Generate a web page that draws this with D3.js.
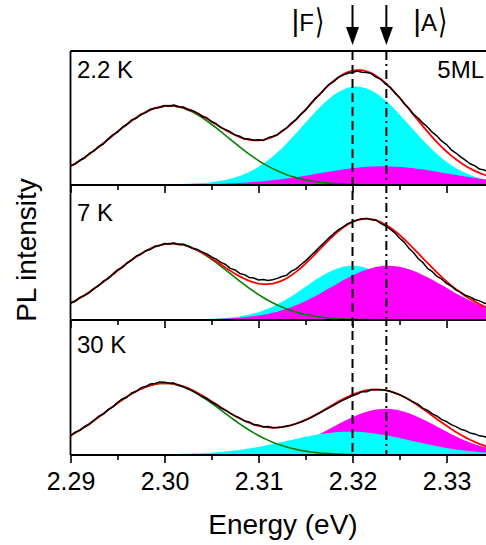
<!DOCTYPE html>
<html><head><meta charset="utf-8">
<script src="https://cdn.jsdelivr.net/npm/d3@7"></script>
<style>
html,body{margin:0;padding:0;background:#fff;}
svg{display:block;font-family:"Liberation Sans",Arial,sans-serif;}
</style></head>
<body><svg id="c" width="486" height="545"></svg>
<script>
// ---------- data ----------
const panelLabels = ["2.2 K", "7 K", "30 K"];
const sampleLabel = "5ML";
const xMajorTicks = [2.29, 2.30, 2.31, 2.32, 2.33];
const xMinorTicks = [2.295, 2.305, 2.315, 2.325];
const stateF = 2.3200, stateA = 2.3236;
const stateNames = ["F", "A"];

// Gaussian fit components per panel (center eV, amplitude, sigma eV)
const greenCenter = [2.3005, 2.3008, 2.3000];
const greenAmp    = [0.59, 0.57, 0.535];
const greenSigma  = [0.0062, 0.0062, 0.0062];
const cyanCenter  = [2.3204, 2.3200, 2.3197];
const cyanAmp     = [0.73, 0.40, 0.17];
const cyanSigma   = [0.0056, 0.0050, 0.0065];
const magCenter   = [2.3232, 2.3238, 2.3235];
const magAmp      = [0.135, 0.40, 0.34];
const magSigma    = [0.0068, 0.0060, 0.0055];
const fillOrder = [["cyan","magenta"],["cyan","magenta"],["magenta","cyan"]];

// measured PL minus fit (thousandths), every 0.5 meV from 2.2900 eV
const residual1 = [4,-5,2,-4,5,-2,4,-6,2,5,-4,3,-2,6,-5,2,-4,5,0,-5,
  4,-4,6,-2,5,-5,3,2,-4,6,0,5,-2,4,7,1,6,-3,5,0,
  4,-5,6,2,-4,5,0,6,-2,4,-5,2,5,-3,1,4,-6,-1,-5,-8,
  -13,-7,-15,-9,-4,-11,-2,-8,1,-5,
  2,-3,5,3,18,24,35,36,46,44,
  52,43,47,44,42,35,38,29,36,28];
const residual2 = [2,-4,5,-2,-5,3,-1,5,-4,2,6,-5,3,-2,5,-4,2,-6,4,-1,
  5,-2,4,-5,6,2,-4,5,4,11,10,17,16,24,18,28,22,31,25,33,
  26,35,28,29,30,31,23,31,22,24,21,20,18,17,15,14,12,11,5,6,
  0,1,1,2,-6,0,-10,-10,-13,-14,
  -23,-22,-33,-31,-40,-33,-41,-28,-29,-16,
  -15,-6,-6,4,5,15,16,24,24,30];
const residual3 = [-4,5,-3,4,-5,2,6,-4,5,-3,4,7,-4,6,-1,8,2,10,4,11,
  7,0,6,-3,-2,-5,-4,-6,-8,-3,-7,-1,-6,1,-1,0,4,-2,6,-3,
  5,-1,7,0,1,1,2,0,0,-1,-2,-4,-3,-5,-5,-6,-7,-8,-8,-9,
  -9,-10,-3,-11,-2,-3,-1,0,0,-1,
  1,1,2,2,10,4,14,14,22,22,
  32,33,40,42,51,51,60,60,68,68];
const residuals = [residual1, residual2, residual3];
const gridStart = 2.29, gridStep = 0.0005;

// ---------- layout ----------
const svg = d3.select("#c");
const left = 70.5, right = 486;
const panelTop = [51, 185, 320];
const panelBottom = [185, 320, 455];
const x = d3.scaleLinear().domain([2.29, 2.3342]).range([left, right]);
const energies = residual1.map((_, i) => gridStart + i * gridStep);
const gauss = (e, c, a, s) => a * Math.exp(-((e - c) ** 2) / (2 * s * s));

svg.append("defs").append("clipPath").attr("id","clip")
  .append("rect").attr("x", left).attr("y", 51).attr("width", right - left).attr("height", 405);

const colors = {cyan: "#00ffff", magenta: "#ff00ff"};

panelTop.forEach((top, p) => {
  const bottom = panelBottom[p];
  const y = d3.scaleLinear().domain([0, 1]).range([bottom, bottom - 134]);
  const g = svg.append("g");
  const plot = g.append("g").attr("clip-path", "url(#clip)");
  const comp = {
    green: e => gauss(e, greenCenter[p], greenAmp[p], greenSigma[p]),
    cyan: e => gauss(e, cyanCenter[p], cyanAmp[p], cyanSigma[p]),
    magenta: e => gauss(e, magCenter[p], magAmp[p], magSigma[p])
  };
  const fit = e => comp.green(e) + comp.cyan(e) + comp.magenta(e);

  g.append("line").attr("x1", left).attr("x2", right).attr("y1", bottom).attr("y2", bottom)
    .attr("stroke", "#000").attr("stroke-width", 1.8);

  fillOrder[p].forEach(name => {
    const area = d3.area().x(e => x(e)).y0(y(0)).y1(e => y(comp[name](e)));
    plot.append("path").datum(energies).attr("d", area)
      .attr("fill", colors[name]).attr("stroke", colors[name]).attr("stroke-width", 1.2);
  });
  const line = f => d3.line().x(e => x(e)).y(e => y(f(e)));
  plot.append("path").datum(energies).attr("d", line(comp.green))
    .attr("fill", "none").attr("stroke", "#008000").attr("stroke-width", 1.6);
  plot.append("path").datum(energies).attr("d", line(fit))
    .attr("fill", "none").attr("stroke", "#ff0000").attr("stroke-width", 1.8);
  const res = residuals[p];
  plot.append("path").datum(energies.map((e, i) => [e, fit(e) + res[i] / 1000]))
    .attr("d", d3.line().x(d => x(d[0])).y(d => y(d[1])))
    .attr("fill", "none").attr("stroke", "#000").attr("stroke-width", 1.5).attr("stroke-linejoin","round");

  const major = d3.axisBottom(x).tickValues(xMajorTicks).tickSize(8).tickSizeOuter(0)
    .tickFormat(p === 2 ? d3.format(".2f") : () => "").tickPadding(9);
  const minor = d3.axisBottom(x).tickValues(xMinorTicks).tickSize(5).tickSizeOuter(0).tickFormat(() => "");
  const ax = g.append("g").attr("transform", `translate(0,${bottom})`).call(major);
  const axm = g.append("g").attr("transform", `translate(0,${bottom})`).call(minor);
  [ax, axm].forEach(a => {
    a.select(".domain").remove();
    a.selectAll(".tick line").attr("stroke", "#000").attr("stroke-width", 1.6);
    a.selectAll("text").attr("font-size", 25).attr("fill", "#000")
      .attr("font-family", "'Liberation Sans', Arial, sans-serif");
  });

  const labelY = [78, 221, 353][p];
  g.append("text").attr("x", 77).attr("y", labelY).attr("font-size", 24).text(panelLabels[p]);
});

svg.append("line").attr("x1", left).attr("x2", left).attr("y1", 51).attr("y2", 455)
  .attr("stroke", "#000").attr("stroke-width", 1.8);
svg.append("line").attr("x1", left).attr("x2", right).attr("y1", 51).attr("y2", 51)
  .attr("stroke", "#000").attr("stroke-width", 1.8);

svg.append("text").attr("x", 484).attr("y", 78).attr("text-anchor", "end")
  .attr("font-size", 24).text(sampleLabel);

svg.append("line").attr("x1", x(stateF)).attr("x2", x(stateF)).attr("y1", 51).attr("y2", 455)
  .attr("stroke", "#000").attr("stroke-width", 2).attr("stroke-dasharray", "9,5");
svg.append("line").attr("x1", x(stateA)).attr("x2", x(stateA)).attr("y1", 51).attr("y2", 455)
  .attr("stroke", "#000").attr("stroke-width", 2).attr("stroke-dasharray", "9,4,2,4");

[stateF, stateA].forEach(e => {
  const cx = x(e);
  svg.append("line").attr("x1", cx).attr("x2", cx).attr("y1", 5).attr("y2", 30)
    .attr("stroke", "#000").attr("stroke-width", 2);
  svg.append("path").attr("d", `M${cx - 6.5},27 L${cx + 6.5},27 L${cx},45 Z`).attr("fill", "#000");
});
// ket labels |F⟩ and |A⟩
[[314, stateNames[0]], [437, stateNames[1]]].forEach(([ex, name]) => {
  const t = svg.append("text").attr("x", ex).attr("y", 31).attr("text-anchor", "end");
  t.append("tspan").attr("font-size", 30).attr("font-weight", 300).text("|");
  t.append("tspan").attr("font-size", 24).text(name);
  svg.append("text").attr("transform", `translate(${ex + 0.5},32.5) scale(0.7,1)`)
    .attr("font-size", 34).attr("font-family", "'DejaVu Sans', sans-serif")
    .attr("font-weight", 200).text("\u27E9");
});

svg.append("text").attr("x", 283).attr("y", 534).attr("text-anchor", "middle")
  .attr("font-size", 28).text("Energy (eV)");
svg.append("text").attr("transform", "translate(36,250) rotate(-90)").attr("text-anchor", "middle")
  .attr("font-size", 28).text("PL intensity");
</script></body></html>
